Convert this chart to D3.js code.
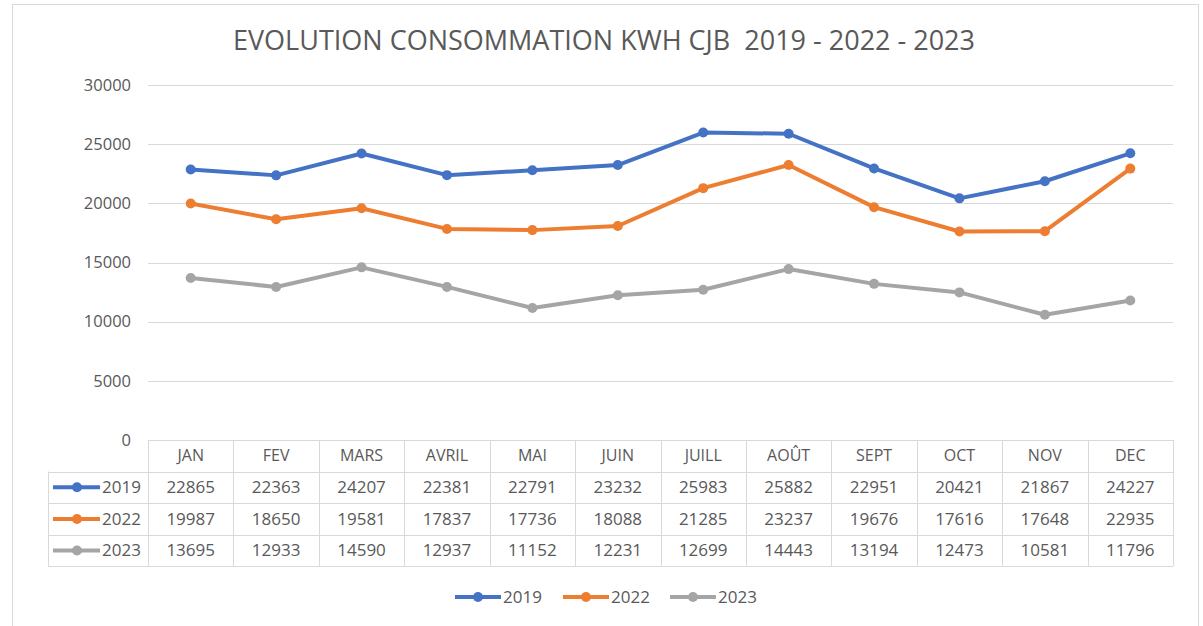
<!DOCTYPE html>
<html>
<head>
<meta charset="utf-8">
<script src="https://cdn.jsdelivr.net/npm/d3@7"></script>
<style>
  body { margin: 0; background: #fff; }
  svg text { font-family: "Open Sans", "Noto Sans", sans-serif; fill: #595959; }
</style>
</head>
<body>
<script>
var months = ["JAN", "FEV", "MARS", "AVRIL", "MAI", "JUIN", "JUILL", "AOÛT", "SEPT", "OCT", "NOV", "DEC"];
var years = ["2019", "2022", "2023"];
var v2019 = [22865, 22363, 24207, 22381, 22791, 23232, 25983, 25882, 22951, 20421, 21867, 24227];
var v2022 = [19987, 18650, 19581, 17837, 17736, 18088, 21285, 23237, 19676, 17616, 17648, 22935];
var v2023 = [13695, 12933, 14590, 12937, 11152, 12231, 12699, 14443, 13194, 12473, 10581, 11796];
var yTicks = [0, 5000, 10000, 15000, 20000, 25000, 30000];
var colors = ["#4472C4", "#ED7D31", "#A5A5A5"];

var series = [v2019, v2022, v2023];

var W = 1203, H = 626;
var plotL = 148, plotR = 1173, plotT = 85, plotB = 440;
var rowH = [31.5, 31.5, 32, 31];

var svg = d3.select("body").append("svg")
            .attr("width", W)
            .attr("height", H);

// outer frame
svg.append("rect")
   .attr("x", 12.5).attr("y", 4.5)
   .attr("width", 1186).attr("height", 640)
   .attr("fill", "none")
   .attr("stroke", "#d9d9d9");

// scales
var x = d3.scaleBand().domain(months).range([plotL, plotR]);
var y = d3.scaleLinear().domain([0, 30000]).range([plotB, plotT]);

// gridlines
svg.selectAll(".grid")
   .data(yTicks.filter(function(d) { return d > 0; }))
   .enter().append("line")
   .attr("x1", plotL).attr("x2", plotR)
   .attr("y1", function(d) { return Math.round(y(d)) + 0.5; })
   .attr("y2", function(d) { return Math.round(y(d)) + 0.5; })
   .attr("stroke", "#d9d9d9");

// y labels
svg.selectAll(".ylab")
   .data(yTicks)
   .enter().append("text")
   .attr("x", 131)
   .attr("y", function(d) { return y(d); })
   .attr("dy", "0.35em")
   .attr("text-anchor", "end")
   .style("font-size", "16.5px")
   .text(function(d) { return d; });

// title
svg.append("text")
   .attr("x", 604).attr("y", 50)
   .attr("text-anchor", "middle")
   .style("font-size", "27px")
   .style("white-space", "pre")
   .text("EVOLUTION CONSOMMATION KWH CJB  2019 - 2022 - 2023");

// lines
var line = d3.line()
             .x(function(d, i) { return x(months[i]) + x.bandwidth() / 2; })
             .y(function(d) { return y(d); });

series.forEach(function(s, k) {
    svg.append("path")
       .datum(s)
       .attr("d", line)
       .attr("fill", "none")
       .attr("stroke", colors[k])
       .attr("stroke-width", 4)
       .attr("stroke-linejoin", "round");
    svg.selectAll(".dot" + k)
       .data(s)
       .enter().append("circle")
       .attr("cx", function(d, i) { return x(months[i]) + x.bandwidth() / 2; })
       .attr("cy", function(d) { return y(d); })
       .attr("r", 5)
       .attr("fill", colors[k]);
});

// data table
var tbl = svg.append("g");
var rowY = [plotB];
rowH.forEach(function(h, i) { rowY.push(rowY[i] + h); });
var tblLeft = 48;

// horizontal lines
rowY.forEach(function(yy, i) {
    tbl.append("line")
       .attr("x1", i == 0 ? plotL : tblLeft)
       .attr("x2", plotR)
       .attr("y1", Math.round(yy) + 0.5).attr("y2", Math.round(yy) + 0.5)
       .attr("stroke", "#d9d9d9");
});
// vertical lines
months.concat(["end"]).forEach(function(m, i) {
    var xx = i < months.length ? x(m) : plotR;
    tbl.append("line")
       .attr("x1", Math.round(xx) + 0.5).attr("x2", Math.round(xx) + 0.5)
       .attr("y1", plotB).attr("y2", rowY[4])
       .attr("stroke", "#d9d9d9");
});
tbl.append("line")
   .attr("x1", tblLeft + 0.5).attr("x2", tblLeft + 0.5)
   .attr("y1", rowY[1]).attr("y2", rowY[4])
   .attr("stroke", "#d9d9d9");

// header
tbl.selectAll(".hdr")
   .data(months)
   .enter().append("text")
   .attr("x", function(d) { return x(d) + x.bandwidth() / 2; })
   .attr("y", (rowY[0] + rowY[1]) / 2)
   .attr("dy", "0.35em")
   .attr("text-anchor", "middle")
   .style("font-size", "16px")
   .text(function(d) { return d; });

series.forEach(function(s, k) {
    var cy = (rowY[k + 1] + rowY[k + 2]) / 2;
    tbl.selectAll(".cell" + k)
       .data(s)
       .enter().append("text")
       .attr("x", function(d, i) { return x(months[i]) + x.bandwidth() / 2; })
       .attr("y", cy)
       .attr("dy", "0.35em")
       .attr("text-anchor", "middle")
       .style("font-size", "17px")
       .text(function(d) { return d; });
    // legend key inside the table
    tbl.append("line")
       .attr("x1", 53).attr("x2", 100)
       .attr("y1", cy).attr("y2", cy)
       .attr("stroke", colors[k]).attr("stroke-width", 4);
    tbl.append("circle")
       .attr("cx", 77).attr("cy", cy).attr("r", 5)
       .attr("fill", colors[k]);
    tbl.append("text")
       .attr("x", 102).attr("y", cy)
       .attr("dy", "0.35em")
       .style("font-size", "17px")
       .text(years[k]);
});

// bottom legend
var legX = [455, 563, 670];
years.forEach(function(yr, k) {
    var g = svg.append("g").attr("transform", "translate(" + legX[k] + ",597)");
    g.append("line")
     .attr("x1", 0).attr("x2", 46)
     .attr("stroke", colors[k]).attr("stroke-width", 4);
    g.append("circle").attr("cx", 23).attr("r", 5).attr("fill", colors[k]);
    g.append("text")
     .attr("x", 48).attr("dy", "0.35em")
     .style("font-size", "17px")
     .text(yr);
});
</script>
</body>
</html>
